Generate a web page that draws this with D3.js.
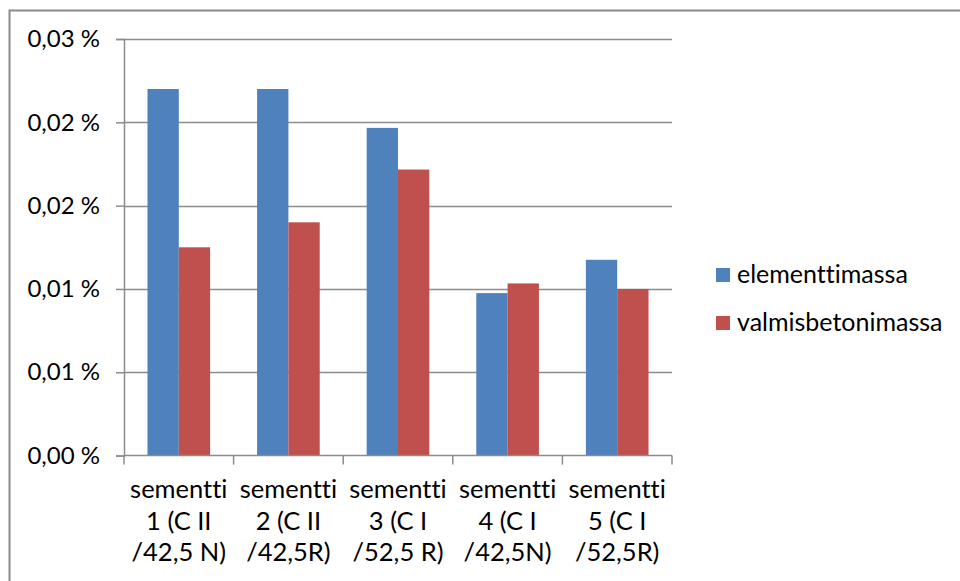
<!DOCTYPE html>
<html>
<head>
<meta charset="utf-8">
<script src="https://cdn.jsdelivr.net/npm/d3@7"></script>
<style>
  html, body { margin: 0; padding: 0; background: #fff; }
  svg text { font-family: Lato, "Open Sans", sans-serif; fill: #000; font-variant-ligatures: none; font-feature-settings: "liga" 0, "clig" 0; }
</style>
</head>
<body>
<svg id="chart" width="960" height="581"></svg>
<script>
// Cement samples (three-line category labels)
const categories = [
  ["sementti", "1 (C II", "/42,5 N)"],
  ["sementti", "2 (C II", "/42,5R)"],
  ["sementti", "3 (C I", "/52,5 R)"],
  ["sementti", "4 (C I", "/42,5N)"],
  ["sementti", "5 (C I", "/52,5R)"]
];
const seriesNames = ["elementtimassa", "valmisbetonimassa"];
// Values in percent
const elementtimassa    = [0.0264, 0.0264, 0.0236, 0.0117, 0.0141];
const valmisbetonimassa = [0.0150, 0.0168, 0.0206, 0.0124, 0.0120];
const yTicks = [0, 0.006, 0.012, 0.018, 0.024, 0.03];
const colors = ["#4F81BD", "#C0504D"];

const series = [elementtimassa, valmisbetonimassa];
const svg = d3.select("#chart");

// Chart frame
svg.append("rect")
  .attr("x", 9.5).attr("y", 10.5)
  .attr("width", 1000).attr("height", 1000)
  .attr("fill", "none").attr("stroke", "#8a8a8a").attr("stroke-width", 2);

const plot = { left: 124, right: 672, top: 39, bottom: 455.6 };

const x = d3.scaleBand()
  .domain(d3.range(categories.length))
  .range([plot.left, plot.right])
  .paddingInner(0).paddingOuter(0);

// Two bars per group, 150% gap width
const barW = x.bandwidth() / 3.5;
const xInner = d3.scaleBand()
  .domain(d3.range(series.length))
  .range([barW * 0.75, barW * 2.75]);

const y = d3.scaleLinear().domain([0, 0.03]).range([plot.bottom, plot.top]);

const fi = d3.formatLocale({ decimal: ",", thousands: " ", grouping: [3], currency: ["", ""] });
const fmt = v => fi.format(".2f")(v) + " %";

// Gridlines
svg.append("g")
  .selectAll("line")
  .data(yTicks.filter(d => d > 0))
  .join("line")
  .attr("x1", plot.left).attr("x2", plot.right)
  .attr("y1", d => Math.round(y(d)) + 0.5).attr("y2", d => Math.round(y(d)) + 0.5)
  .attr("stroke", "#8c8c8c").attr("stroke-width", 1.5);

// Bars
series.forEach((vals, s) => {
  svg.append("g")
    .selectAll("rect")
    .data(vals)
    .join("rect")
    .attr("x", (d, i) => x(i) + xInner(s))
    .attr("width", barW)
    .attr("y", d => y(d))
    .attr("height", d => y(0) - y(d))
    .attr("fill", colors[s]);
});

// Y axis
const yAxis = d3.axisLeft(y).tickValues(yTicks).tickFormat(fmt).tickSize(8).tickPadding(16);
const gy = svg.append("g").attr("transform", `translate(${plot.left},0)`).call(yAxis);
gy.attr("font-size", null).attr("font-family", null);
gy.select(".domain").attr("stroke", "#8c8c8c").attr("stroke-width", 1.5);
gy.selectAll(".tick line").attr("stroke", "#8c8c8c").attr("stroke-width", 1.5);
gy.selectAll(".tick text").style("font-size", "24px").attr("fill", "#000");

// X axis line with category boundary ticks
const gx = svg.append("g");
gx.append("line")
  .attr("x1", plot.left).attr("x2", plot.right)
  .attr("y1", plot.bottom).attr("y2", plot.bottom)
  .attr("stroke", "#8c8c8c").attr("stroke-width", 1.5);
gx.selectAll("line.tk")
  .data(d3.range(categories.length + 1))
  .join("line").attr("class", "tk")
  .attr("x1", i => i < categories.length ? x(i) : plot.right)
  .attr("x2", i => i < categories.length ? x(i) : plot.right)
  .attr("y1", plot.bottom).attr("y2", plot.bottom + 9)
  .attr("stroke", "#8c8c8c").attr("stroke-width", 1.5);

// Category labels
svg.append("g")
  .selectAll("text")
  .data(categories)
  .join("text")
  .attr("text-anchor", "middle")
  .style("font-size", "25.5px")
  .each(function (lines, ci) {
    d3.select(this).selectAll("tspan")
      .data(lines)
      .join("tspan")
      .attr("x", x(ci) + x.bandwidth() / 2)
      .attr("y", (d, i) => 498 + i * 31.5)
      .text(d => d);
  });

// Legend
const lg = svg.append("g");
seriesNames.forEach((name, s) => {
  lg.append("rect")
    .attr("x", 716).attr("y", 268 + s * 48)
    .attr("width", 14).attr("height", 14)
    .attr("fill", colors[s]);
  lg.append("text")
    .attr("x", 737).attr("y", 283 + s * 48)
    .style("font-size", "25px")
    .text(name);
});
</script>
</body>
</html>
